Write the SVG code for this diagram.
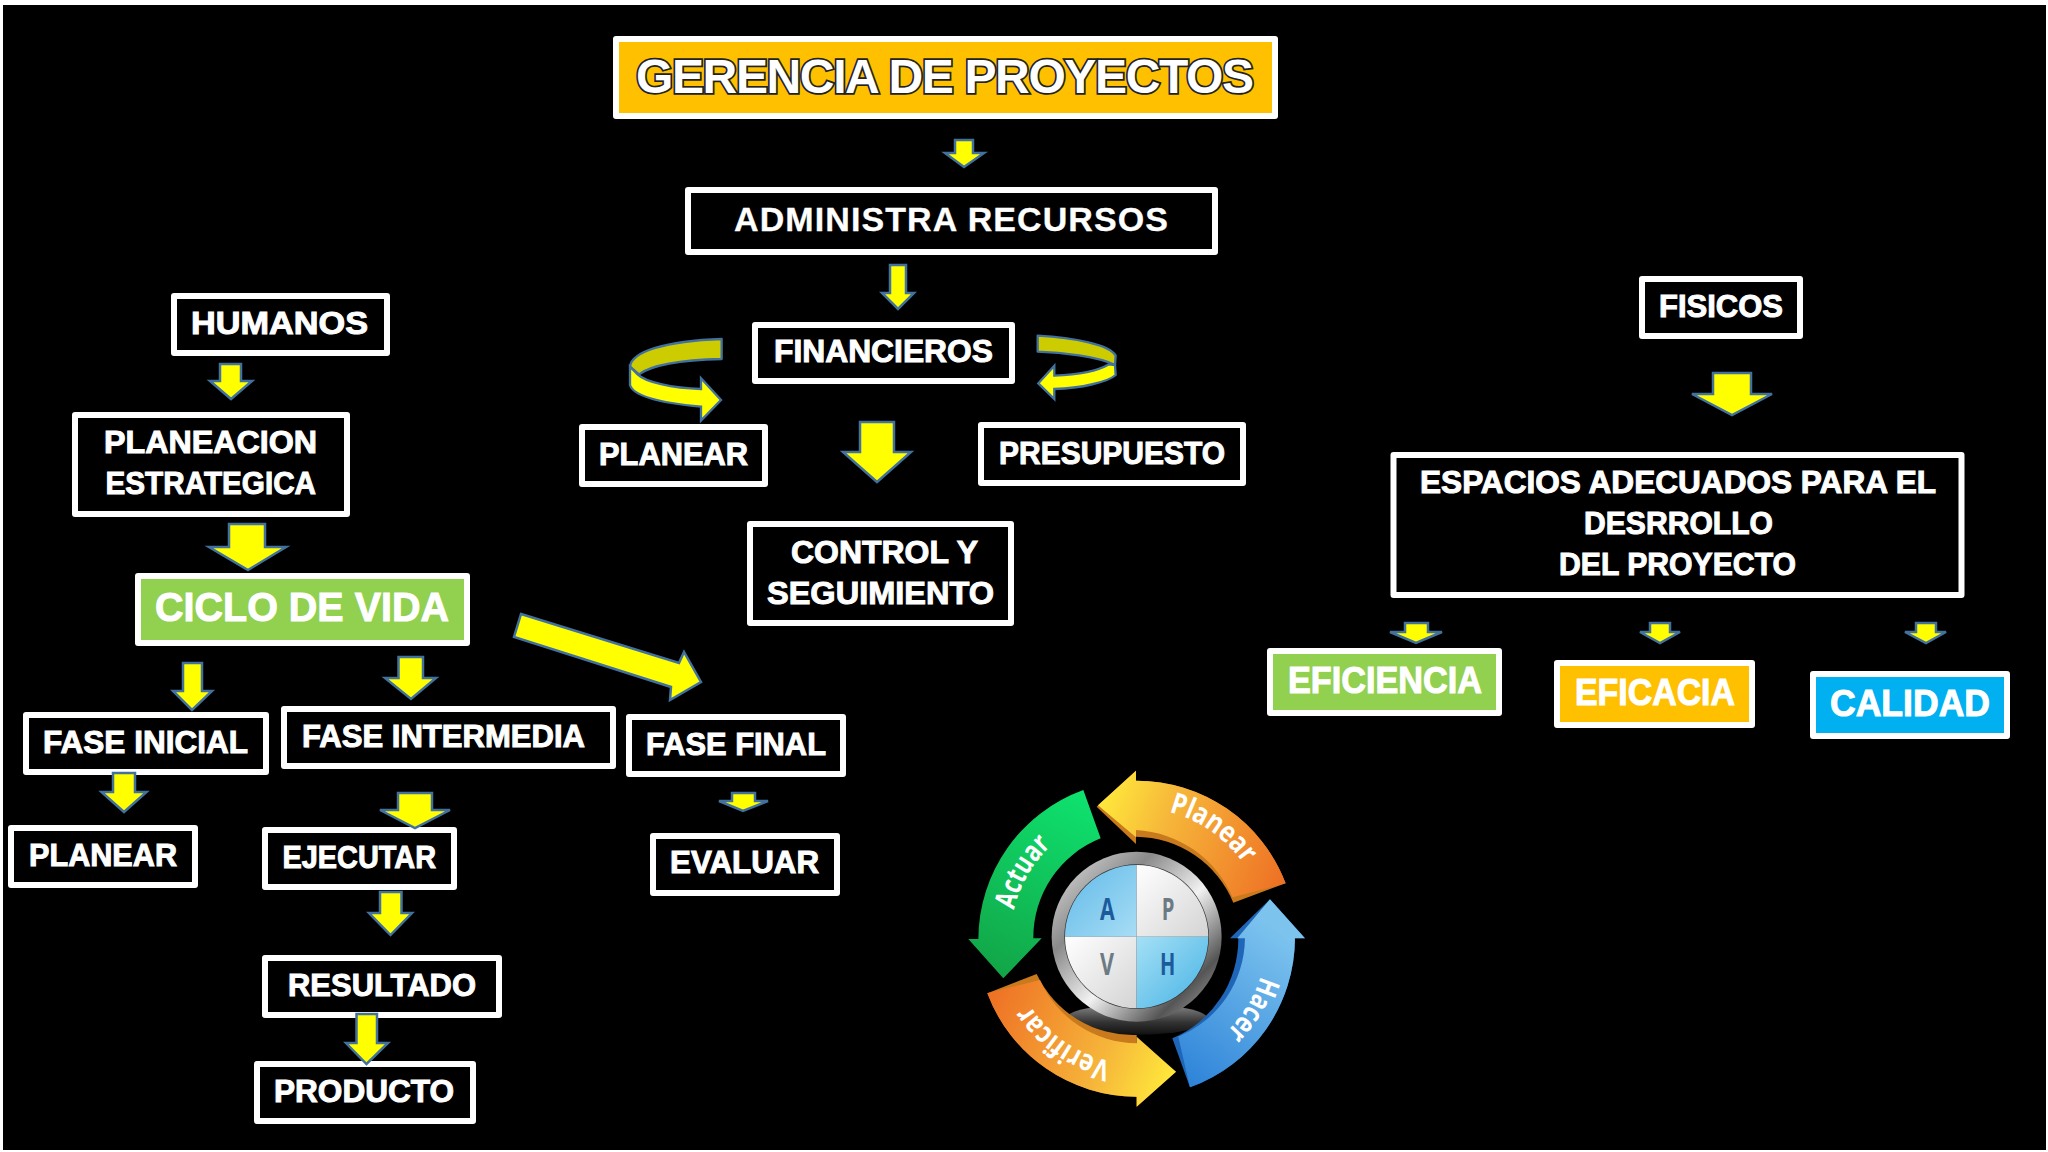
<svg xmlns="http://www.w3.org/2000/svg" width="2048" height="1152" viewBox="0 0 2048 1152">
<style>
.box{fill:#000;stroke:#fff;stroke-width:6;stroke-linejoin:round}
.t{font-family:"Liberation Sans",Arial,sans-serif;font-weight:700;font-size:32px;fill:#fff;stroke:#fff;stroke-width:1}
.ar{fill:#ff0;stroke:#41719c;stroke-width:2.5;stroke-linejoin:miter}
.back{fill:#cccc00;stroke:#41719c;stroke-width:2.5;stroke-linejoin:round}
.pl{font-family:"Open Sans","Liberation Sans",sans-serif;font-weight:700;font-size:88px;fill:#fff}
.ltr{font-family:"Open Sans","Liberation Sans",sans-serif;font-weight:700;font-size:90px}
</style>
<defs>
<linearGradient id="gP" gradientUnits="userSpaceOnUse" x1="470" y1="170" x2="1037" y2="400"><stop offset="0" stop-color="#ffe93b"/><stop offset=".35" stop-color="#f6b63a"/><stop offset="1" stop-color="#ee6f24"/></linearGradient>
<linearGradient id="gV" gradientUnits="userSpaceOnUse" x1="708" y1="965" x2="142" y2="730"><stop offset="0" stop-color="#ffe93b"/><stop offset=".35" stop-color="#f6b63a"/><stop offset="1" stop-color="#ee6f24"/></linearGradient>
<linearGradient id="gH" gradientUnits="userSpaceOnUse" x1="1040" y1="560" x2="720" y2="1000"><stop offset="0" stop-color="#7cc3ee"/><stop offset="1" stop-color="#2c82d8"/></linearGradient>
<linearGradient id="gA" gradientUnits="userSpaceOnUse" x1="430" y1="130" x2="160" y2="670"><stop offset="0" stop-color="#0ee26e"/><stop offset="1" stop-color="#12a548"/></linearGradient>
<linearGradient id="gR" x1="0" y1="0" x2="1" y2="1"><stop offset="0" stop-color="#e8e8e8"/><stop offset=".3" stop-color="#8a8a8a"/><stop offset=".55" stop-color="#f2f2f2"/><stop offset=".8" stop-color="#555"/><stop offset="1" stop-color="#bbb"/></linearGradient>
<linearGradient id="gB1" x1="0" y1="0" x2="1" y2="1"><stop offset="0" stop-color="#5fb9e8"/><stop offset="1" stop-color="#a8ddf5"/></linearGradient>
<linearGradient id="gB2" x1="0" y1="0" x2="1" y2="1"><stop offset="0" stop-color="#a5e0f6"/><stop offset="1" stop-color="#45b2e4"/></linearGradient>
<linearGradient id="gW" x1="0" y1="0" x2="1" y2="1"><stop offset="0" stop-color="#ffffff"/><stop offset="1" stop-color="#d4d4d4"/></linearGradient>
<linearGradient id="gS" x1="0" y1="0" x2="0" y2="1"><stop offset="0" stop-color="#8a8a8a"/><stop offset=".6" stop-color="#333"/><stop offset="1" stop-color="#111"/></linearGradient>
<path id="pPl" d="M687,186 A392,392 0 0 1 958,433"/>
<path id="pHa" d="M962,678 A389,389 0 0 1 724,930"/>
<path id="pVe" d="M513,934 A377,377 0 0 1 218,498"/>
<path id="pAc" d="M222,480 A378,378 0 0 1 461,209"/>
</defs>
<rect width="2048" height="1152" fill="#fff"/>
<rect x="3" y="5" width="2043" height="1145" fill="#000"/>

<g id="n-gerencia"><rect x="616" y="39" width="659" height="77" fill="#ffc000" stroke="#fff" stroke-width="6" stroke-linejoin="round"/><text x="636" y="93" class="t" style="font-size:48px;stroke:#222;stroke-width:3.5;paint-order:stroke" textLength="618" lengthAdjust="spacing">GERENCIA DE PROYECTOS</text></g>
<g id="n-administra"><rect class="box" x="688" y="190" width="527" height="62"/><text x="734" y="231" class="t" style="font-size:34px;stroke-width:.3" textLength="434" lengthAdjust="spacing">ADMINISTRA RECURSOS</text></g>
<g id="n-financieros"><rect class="box" x="755" y="325" width="257" height="56"/><text x="774" y="362" class="t" textLength="219" lengthAdjust="spacingAndGlyphs">FINANCIEROS</text></g>
<g id="n-humanos"><rect class="box" x="174" y="296" width="213" height="57"/><text x="191" y="334" class="t" textLength="177" lengthAdjust="spacingAndGlyphs">HUMANOS</text></g>
<g id="n-planeacion"><rect class="box" x="75" y="415" width="272" height="99"/><text x="104" y="453" class="t" textLength="213" lengthAdjust="spacingAndGlyphs">PLANEACION</text><text x="105.500" y="494" class="t" textLength="210.500" lengthAdjust="spacingAndGlyphs">ESTRATEGICA</text></g>
<g id="n-ciclo"><rect x="138" y="576" width="329" height="67" fill="#92d050" stroke="#fff" stroke-width="6" stroke-linejoin="round"/><text x="155" y="621" class="t" style="font-size:41px" textLength="294" lengthAdjust="spacingAndGlyphs">CICLO DE VIDA</text></g>
<g id="n-planear-c"><rect class="box" x="582" y="427" width="183" height="57"/><text x="599" y="465" class="t" textLength="149" lengthAdjust="spacingAndGlyphs">PLANEAR</text></g>
<g id="n-presupuesto"><rect class="box" x="981" y="425" width="262" height="58"/><text x="999" y="464" class="t" textLength="226" lengthAdjust="spacingAndGlyphs">PRESUPUESTO</text></g>
<g id="n-control"><rect class="box" x="750" y="524" width="261" height="99"/><text x="791" y="563" class="t" textLength="187" lengthAdjust="spacingAndGlyphs">CONTROL Y</text><text x="767" y="604" class="t" textLength="227" lengthAdjust="spacingAndGlyphs">SEGUIMIENTO</text></g>
<g id="n-fisicos"><rect class="box" x="1642" y="279" width="158" height="57"/><text x="1659" y="317" class="t" textLength="124" lengthAdjust="spacingAndGlyphs">FISICOS</text></g>
<g id="n-espacios"><rect class="box" x="1393.500" y="455" width="568" height="140"/><text x="1420" y="493" class="t" textLength="516" lengthAdjust="spacingAndGlyphs">ESPACIOS ADECUADOS PARA EL</text><text x="1584" y="534" class="t" textLength="189" lengthAdjust="spacingAndGlyphs">DESRROLLO</text><text x="1559" y="575" class="t" textLength="237" lengthAdjust="spacingAndGlyphs">DEL PROYECTO</text></g>
<g id="n-eficiencia"><rect x="1270" y="651" width="229" height="62" fill="#92d050" stroke="#fff" stroke-width="6" stroke-linejoin="round"/><text x="1288" y="693" class="t" style="font-size:36px" textLength="194" lengthAdjust="spacingAndGlyphs">EFICIENCIA</text></g>
<g id="n-eficacia"><rect x="1557" y="663" width="195" height="62" fill="#ffc000" stroke="#fff" stroke-width="6" stroke-linejoin="round"/><text x="1575" y="705" class="t" style="font-size:36px" textLength="160" lengthAdjust="spacingAndGlyphs">EFICACIA</text></g>
<g id="n-calidad"><rect x="1813" y="674" width="194" height="62" fill="#00b0f0" stroke="#fff" stroke-width="6" stroke-linejoin="round"/><text x="1830" y="716" class="t" style="font-size:36px" textLength="160" lengthAdjust="spacingAndGlyphs">CALIDAD</text></g>
<g id="n-fase-inicial"><rect class="box" x="26" y="715" width="240" height="57"/><text x="43" y="753" class="t" textLength="205" lengthAdjust="spacingAndGlyphs">FASE INICIAL</text></g>
<g id="n-fase-intermedia"><rect class="box" x="284" y="709" width="329" height="57"/><text x="302" y="747" class="t" textLength="283" lengthAdjust="spacingAndGlyphs">FASE INTERMEDIA</text></g>
<g id="n-fase-final"><rect class="box" x="629" y="717" width="214" height="57"/><text x="646" y="755" class="t" textLength="180" lengthAdjust="spacingAndGlyphs">FASE FINAL</text></g>
<g id="n-planear-l"><rect class="box" x="11" y="828" width="184" height="57"/><text x="29" y="866" class="t" textLength="148" lengthAdjust="spacingAndGlyphs">PLANEAR</text></g>
<g id="n-ejecutar"><rect class="box" x="265" y="830" width="189" height="57"/><text x="282.500" y="868" class="t" textLength="153.500" lengthAdjust="spacingAndGlyphs">EJECUTAR</text></g>
<g id="n-evaluar"><rect class="box" x="653" y="836" width="184" height="57"/><text x="670" y="873" class="t" textLength="149" lengthAdjust="spacingAndGlyphs">EVALUAR</text></g>
<g id="n-resultado"><rect class="box" x="265" y="958" width="234" height="57"/><text x="288" y="996" class="t" textLength="188" lengthAdjust="spacingAndGlyphs">RESULTADO</text></g>
<g id="n-producto"><rect class="box" x="257" y="1064" width="216" height="57"/><text x="274" y="1102" class="t" textLength="180" lengthAdjust="spacingAndGlyphs">PRODUCTO</text></g>

<g id="connectors">
<polygon class="ar" points="955,140 973,140 973,153 984,153 964,167 945,153 955,153"/>
<polygon class="ar" points="890,265 906,265 906,293 914,293 898,309 882,293 890,293"/>
<polygon class="ar" points="220,364 241,364 241,381 252,381 231,399 210,381 220,381"/>
<polygon class="ar" points="229,524 265,524 265,547 286,547 248,570 209,547 229,547"/>
<polygon class="ar" points="183,663 202,663 202,691 212,691 192,710 173,691 183,691"/>
<polygon class="ar" points="398.500,657 423,657 423,678 436,678 411,699 385,678 398.500,678"/>
<polygon class="ar" points="521,614 679,663 684,652 701,682 670,700 671,687 514,637"/>
<polygon class="ar" points="860,422 894,422 894,452 911,452 877,482 843,452 860,452"/>
<polygon class="ar" points="1713,373 1751,373 1751,394 1772,394 1732,415 1692,394 1713,394"/>
<polygon class="ar" points="1405,623 1428,623 1428,632 1442,632 1416,643 1390,632 1405,632"/>
<polygon class="ar" points="1650,623 1670,623 1670,632 1680,632 1660,643 1640,632 1650,632"/>
<polygon class="ar" points="1916,623 1936,623 1936,632 1946,632 1926,643 1905,632 1916,632"/>
<polygon class="ar" points="113,773 135,773 135,792 146.500,792 124,812 101.500,792 113,792"/>
<polygon class="ar" points="398,793 432,793 432,810 450,810 415,828 380,810 398,810"/>
<polygon class="ar" points="732,793 755,793 755,801 768,801 743,811 719,801 732,801"/>
<polygon class="ar" points="380,892 401.500,892 401.500,913 412,913 390.500,935 369,913 380,913"/>
<polygon class="ar" points="356.500,1014 377,1014 377,1043 388,1043 366.500,1064 346,1043 356.500,1043"/>
<g transform="translate(615,325) scale(.3333)">
<path class="back" style="stroke-width:7" d="M320,42 L320,102 C200,105 110,120 72,148 L45,125 C50,80 150,48 320,42 Z"/>
<path class="ar" style="stroke-width:7" d="M45,125 L45,180 C55,215 150,235 258,245 L258,287 L318,225 L258,160 L258,192 C170,190 90,170 68,148 Z"/>
</g>
<g transform="translate(1025,325) scale(.3333)">
<path class="back" style="stroke-width:7" d="M38,32 L38,80 C110,82 220,95 270,120 L272,92 C255,60 150,38 38,32 Z"/>
<path class="ar" style="stroke-width:7" d="M252,118 L270,120 L272,150 C250,170 170,190 88,192 L88,222 L40,175 L88,122 L88,152 C150,150 215,140 252,118 Z"/>
</g>
</g>

<g id="pdca" transform="translate(940,750) scale(.3333)">
<ellipse cx="590" cy="808" rx="215" ry="46" fill="url(#gS)"/>
<path fill="#c97a1c" d="M470,170 L588,62 L588,92 A478,478 0 0 1 1037,400 L880,458 A320,320 0 0 0 588,260 L588,282 Z"/>
<path fill="url(#gP)" d="M474,166 L588,62 L588,92 A478,478 0 0 1 1037,400 L878,442 A335,335 0 0 0 588,240 L588,262 Z"/>
<path fill="#1f66b8" d="M990,448 L1095,565 L1065,565 A476,476 0 0 1 750,1012 L697,865 A323,323 0 0 0 895,565 L870,565 Z"/>
<path fill="url(#gH)" d="M990,448 L1095,565 L1065,565 A476,476 0 0 1 750,1012 L715,860 A323,323 0 0 0 915,565 L892,565 Z"/>
<path fill="#c97a1c" d="M708,965 L590,1070 L590,1040 A478,478 0 0 1 142,730 L290,672 A320,320 0 0 0 590,855 L590,880 Z"/>
<path fill="url(#gV)" d="M708,965 L590,1070 L590,1040 A478,478 0 0 1 142,730 L300,690 A320,320 0 0 0 590,880 L590,860 Z"/>
<path fill="url(#gA)" d="M190,685 L85,567 L115,567 A478,478 0 0 1 430,120 L482,265 A320,320 0 0 0 280,565 L305,565 Z"/>
<circle cx="590" cy="560" r="255" fill="url(#gR)"/>
<circle cx="590" cy="560" r="217" fill="#333"/>
<path fill="url(#gB1)" d="M590,560 L375,560 A215,215 0 0 1 590,345 Z"/>
<path fill="url(#gW)" d="M590,560 L805,560 A215,215 0 0 0 590,345 Z"/>
<path fill="url(#gW)" d="M590,560 L375,560 A215,215 0 0 0 590,775 Z"/>
<path fill="url(#gB2)" d="M590,560 L805,560 A215,215 0 0 1 590,775 Z"/>
<text class="ltr" x="480" y="510" fill="#1c5a9c" textLength="44" lengthAdjust="spacingAndGlyphs">A</text>
<text class="ltr" x="665" y="510" fill="#6c7a84" textLength="38" lengthAdjust="spacingAndGlyphs">P</text>
<text class="ltr" x="480" y="674" fill="#6c7a84" textLength="42" lengthAdjust="spacingAndGlyphs">V</text>
<text class="ltr" x="660" y="674" fill="#1c5a9c" textLength="46" lengthAdjust="spacingAndGlyphs">H</text>
<text class="pl"><textPath href="#pPl" textLength="278" lengthAdjust="spacingAndGlyphs">Planear</textPath></text>
<text class="pl"><textPath href="#pHa" textLength="198" lengthAdjust="spacingAndGlyphs">Hacer</textPath></text>
<text class="pl"><textPath href="#pVe" textLength="305" lengthAdjust="spacingAndGlyphs">Verificar</textPath></text>
<text class="pl"><textPath href="#pAc" textLength="226" lengthAdjust="spacingAndGlyphs">Actuar</textPath></text>
</g>
</svg>
